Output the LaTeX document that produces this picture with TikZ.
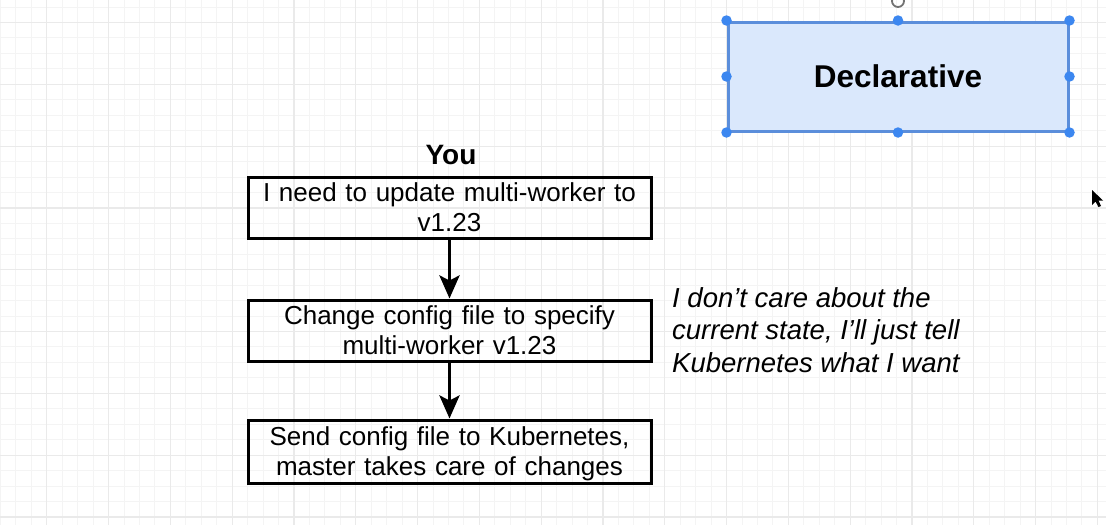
\documentclass[tikz,border=0pt]{standalone}
\usepackage{fontspec}
\setmainfont{Liberation Sans}
\usetikzlibrary{arrows.meta}
\definecolor{gridminor}{HTML}{F4F4F4}
\definecolor{gridmajor}{HTML}{EAEAEA}
\definecolor{declfill}{HTML}{DAE8FC}
\definecolor{declline}{HTML}{5B8EDB}
\definecolor{handle}{HTML}{3C87F0}
\begin{document}
\begin{tikzpicture}[x=1pt,y=-1pt,
  stepbox/.style={draw=black, line width=3pt, minimum width=403pt, minimum height=61pt,
    text width=400pt, align=center, inner sep=0pt, font=\fontsize{26}{30}\selectfont},
  flow/.style={line width=3.5pt, -{Stealth[length=23pt,width=20pt,inset=5pt]}},
  handledot/.style={circle, fill=handle, minimum size=10.5pt, inner sep=0pt},
  gridthin/.style={gridminor, line width=1pt},
  gridthick/.style={gridmajor, line width=1.2pt}]
\useasboundingbox (0,0) rectangle (1106,525);
\fill[white] (0,0) rectangle (1106,525);
% grid
\foreach \i in {0,...,71} \draw[gridthin] ({0.45+15.45*\i},0) -- ({0.45+15.45*\i},525);
\foreach \i in {0,...,34} \draw[gridthin] (0,{7.05+15.45*\i}) -- (1106,{7.05+15.45*\i});
\foreach \i in {-1,...,16} \draw[gridthick] ({108.6+61.8*\i},0) -- ({108.6+61.8*\i},525);
\foreach \i in {0,...,8} \draw[gridthick] (0,{22.5+61.8*\i}) -- (1106,{22.5+61.8*\i});
% flow
\node[font=\bfseries\fontsize{28}{32}\selectfont, anchor=base] (you) at (451,164) {You};
\node[stepbox] (b1) at (449.5,207.5) {I need to update multi-worker to\\v1.23};
\node[stepbox] (b2) at (449.5,330.5) {Change config file to specify\\multi-worker v1.23};
\node[stepbox, minimum height=63pt] (b3) at (449.5,451.5) {Send config file to Kubernetes,\\master takes care of chan\smash{g}es};
\draw[flow] (b1) -- (b2);
\draw[flow] (b2) -- (b3);
% note
\node[anchor=north west, align=left, inner sep=0pt, font=\itshape\fontsize{27.5}{32.5}\selectfont] (note) at (672,287)
  {I don't care about the\\current state, I'll just tell\\Kubernetes what I want};
% declarative (selected)
\node[draw=declline, fill=declfill, line width=3pt, minimum width=340pt, minimum height=109pt,
  inner sep=0pt, font=\bfseries\fontsize{31.5}{36}\selectfont] (decl) at (898,76.5) {Declarative};
\foreach \a in {north west,north,north east,west,east,south west,south,south east}
  \node[handledot] at (decl.\a) {};
\draw[gray!90!black, line width=1.8pt] (898,1) circle (6);
% cursor
\fill[black] (1092,190) -- (1092,205) -- (1095.5,201.5) -- (1098.5,207) -- (1101,206) -- (1098.5,200.5) -- (1103,200.5) -- cycle;
\end{tikzpicture}
\end{document}
